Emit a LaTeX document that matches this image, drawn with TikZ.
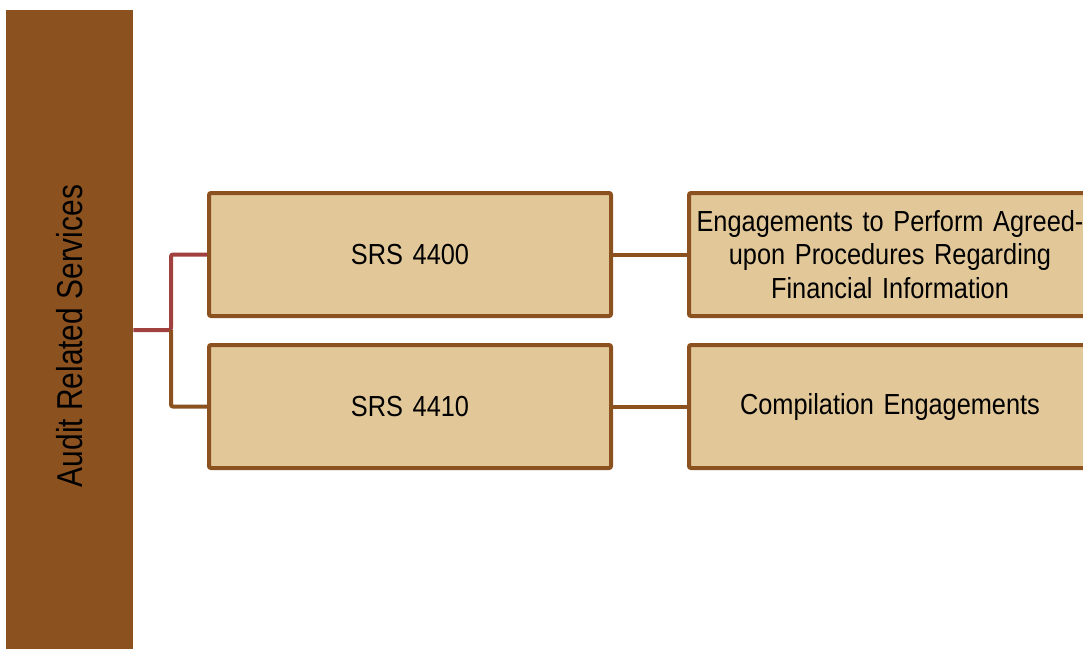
\documentclass[tikz,border=0pt]{standalone}
\usepackage{fontspec}
\setmainfont{Liberation Sans}
\newfontfamily\hfont[FakeStretch=0.874]{Liberation Sans}
\newfontfamily\vfont[FakeStretch=0.83]{Liberation Sans}
\newcommand\boxfontsel{\hfont\fontsize{29}{33.5}\selectfont}
\newcommand\barfontsel{\vfont\fontsize{36}{40}\selectfont}
\definecolor{barbrown}{HTML}{8B5220}
\definecolor{boxfill}{HTML}{E2C899}
\definecolor{linkred}{HTML}{A0403F}
\begin{document}
\begin{tikzpicture}[x=1pt,y=-1pt,
  box/.style={draw=barbrown,line width=4pt,fill=boxfill,rounded corners=2pt,
    minimum width=402pt,minimum height=123pt,inner sep=0pt,
    font=\boxfontsel,align=center,text width=396pt},
  link/.style={line width=4pt},
  ]
\useasboundingbox (0,0) rectangle (1083,648);
\node[fill=barbrown,minimum width=127pt,minimum height=640pt,inner sep=0pt,anchor=north west] (bar) at (6,10) {};
\node[rotate=90,anchor=base,inner sep=0pt,font=\barfontsel] (barlabel) at (82,336) {Audit Related Services};
\node[box] (s1) at (410,254.5) {SRS 4400};
\node[box] (s2) at (410,406.5) {SRS 4410};
\node[box] (d1) at (890,254.5) {Engagements to Perform Agreed-\\upon Procedures Regarding\\Financial Information};
\node[box] (d2) at (890,406.5) {Compilation Engagements};
\coordinate (j) at (171,330);
\draw[link,linkred,rounded corners=2pt] (bar.east |- j) -- (j) |- (s1.west);
\draw[link,barbrown,rounded corners=2pt] (j) |- (s2.west);
\draw[link,barbrown] (s1.east) -- (d1.west);
\draw[link,barbrown] (s2.east) -- (d2.west);
\end{tikzpicture}
\end{document}
